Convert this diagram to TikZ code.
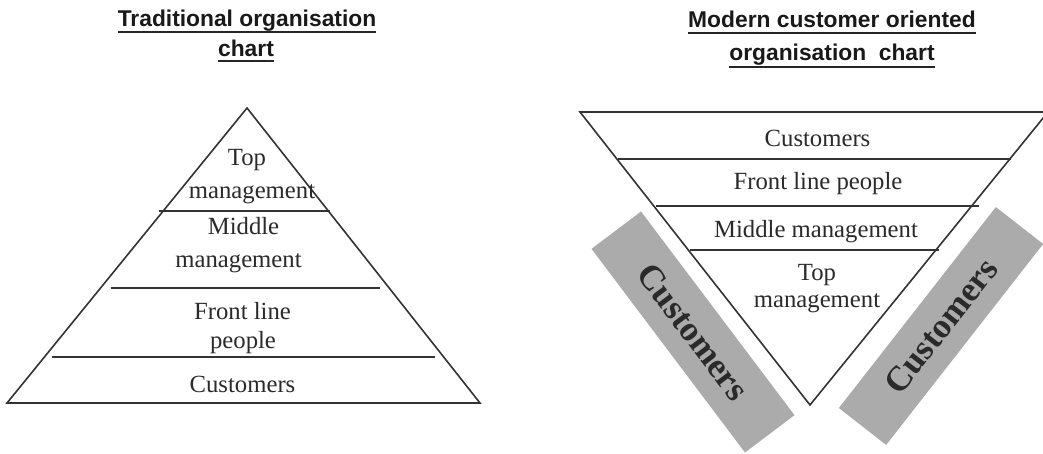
\documentclass[tikz,border=0pt]{standalone}
\usepackage{fontspec}
\setmainfont{Liberation Serif}
\newfontfamily\titlefont{Liberation Sans}
\definecolor{txt}{HTML}{2A2A2A}
\definecolor{ln}{HTML}{333333}
\definecolor{bandgray}{HTML}{ABABAB}
\begin{document}
\begin{tikzpicture}[x=1pt,y=-1pt,
  lbl/.style={font=\fontsize{24.7}{30}\selectfont, text=txt, inner sep=0pt, anchor=base},
  ttl/.style={font=\titlefont\bfseries\fontsize{22.8}{28}\selectfont, text=black!90, inner sep=0pt, anchor=base},
  uline/.style={draw=black!85, line width=1.6pt},
  chartline/.style={draw=ln, line width=1.6pt},
  band/.style={fill=bandgray, minimum width=255pt, minimum height=62pt, inner sep=0pt,
    font=\bfseries\fontsize{35}{40}\selectfont, text=txt}]
\useasboundingbox (0,0) rectangle (1043,454);
\fill[white] (0,0) rectangle (1043,454);
\clip (0,0) rectangle (1043,454);

% ---------- titles ----------
\node[ttl] (tl1) at (247,27) {Traditional organisation};
\node[ttl] (tl2) at (246,57) {chart};
\draw[uline] ([yshift=-5pt]tl1.base west) -- ([yshift=-5pt]tl1.base east);
\draw[uline] ([yshift=-4pt]tl2.base west) -- ([yshift=-4pt]tl2.base east);

\node[ttl] (tr1) at (832,28) {Modern customer oriented};
\node[ttl] (tr2) at (832,61) {organisation\ \ chart};
\draw[uline] ([yshift=-5pt]tr1.base west) -- ([yshift=-5pt]tr1.base east);
\draw[uline] ([yshift=-6pt]tr2.base west) -- ([yshift=-6pt]tr2.base east);

% ---------- traditional pyramid ----------
\coordinate (LA) at (247,108);
\coordinate (LR) at (480,403);
\coordinate (LL) at (7,403);
\draw[chartline, line join=miter] (LA) -- (LR) -- (LL) -- cycle;
\coordinate (l1a) at (159,211); \coordinate (l1b) at (330,211);
\coordinate (l2a) at (111,288); \coordinate (l2b) at (380,288);
\coordinate (l3a) at (52,357);  \coordinate (l3b) at (435,357);
\draw[chartline] (l1a) -- (l1b);
\draw[chartline] (l2a) -- (l2b);
\draw[chartline] (l3a) -- (l3b);

\node[lbl] (ltop1) at (247,166) {Top};
\node[lbl] (ltop2) at (252,199) {management};
\node[lbl] (lmid1) at (243.5,235) {Middle};
\node[lbl] (lmid2) at (238.5,267) {management};
\node[lbl] (lfr1) at (242.5,319) {Front line};
\node[lbl] (lfr2) at (243,348) {people};
\node[lbl] (lcus) at (242.5,392) {Customers};

% ---------- customer bands ----------
\node[band, rotate=-53] (bandL) at (693,332) {Customers};
\node[band, rotate=52, minimum height=60pt] (bandR) at (941,326) {Customers};

% ---------- inverted pyramid ----------
\coordinate (RL) at (580,112);
\coordinate (RR) at (1048,112);
\coordinate (RA) at (810,405);
\draw[chartline, line join=miter] (RL) -- (RR) -- (RA) -- cycle;
\coordinate (r1a) at (618,159); \coordinate (r1b) at (1011,159);
\coordinate (r2a) at (656,206); \coordinate (r2b) at (979,206);
\coordinate (r3a) at (690,250); \coordinate (r3b) at (939,250);
\draw[chartline] (r1a) -- (r1b);
\draw[chartline] (r2a) -- (r2b);
\draw[chartline] (r3a) -- (r3b);

\node[lbl] (rcus) at (817.5,147) {Customers};
\node[lbl] (rfr) at (818,190) {Front line people};
\node[lbl] (rmid) at (816,238) {Middle management};
\node[lbl] (rtop1) at (817,280) {Top};
\node[lbl] (rtop2) at (817,307) {management};
\end{tikzpicture}
\end{document}
